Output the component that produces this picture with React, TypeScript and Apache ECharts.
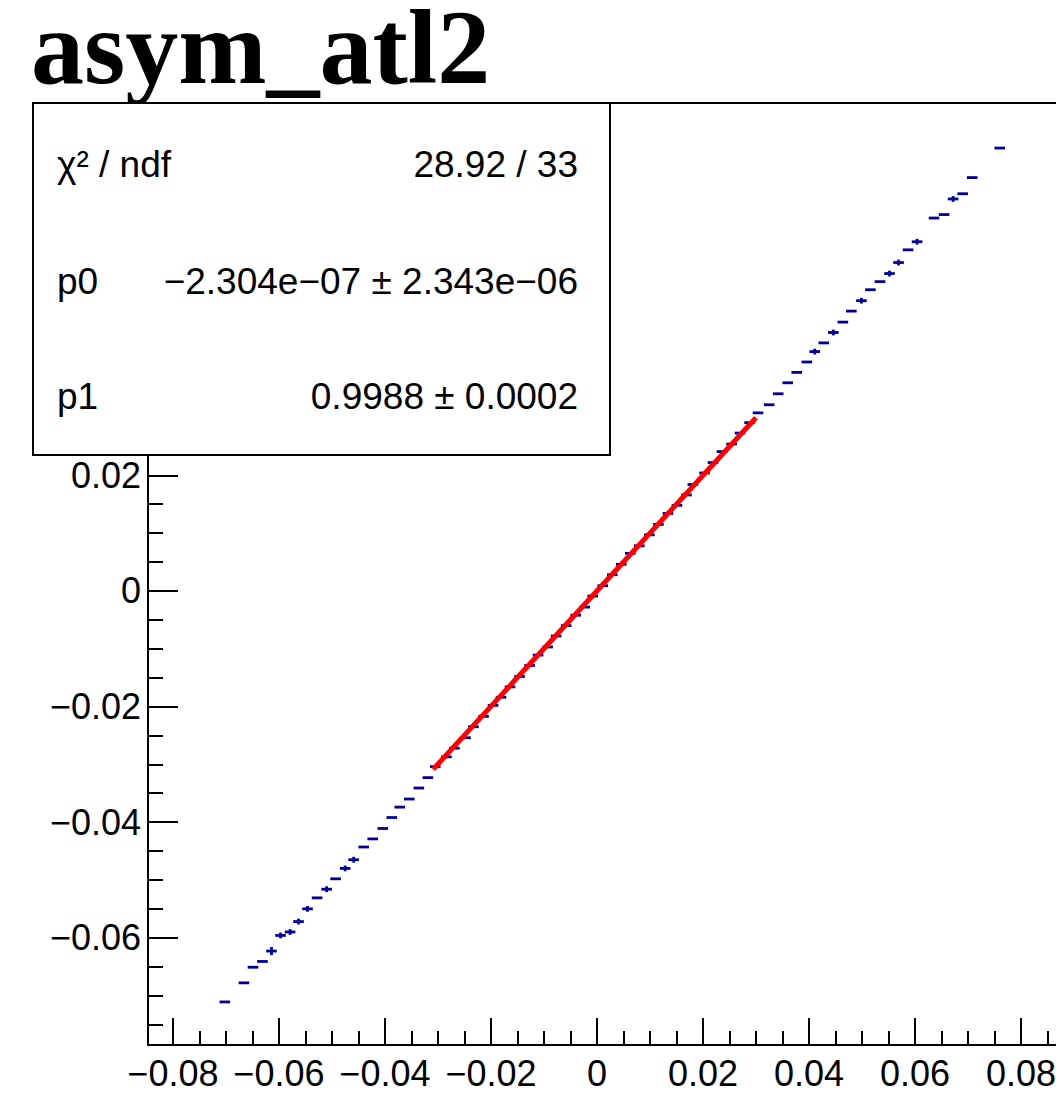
import React, { useEffect, useRef } from "react";
import * as echarts from "echarts";

// ---- data ----
const pointX = [
  -0.0702, -0.0666, -0.0649, -0.0631, -0.0614, -0.0597, -0.0579, -0.0563, -0.0546, -0.0528,
  -0.0510, -0.0493, -0.0475, -0.0459, -0.0440, -0.0423, -0.0404, -0.0387, -0.0372, -0.0354,
  -0.0336, -0.0319, -0.0305, -0.0284, -0.0269, -0.0248, -0.0233, -0.0214, -0.0196, -0.0181,
  -0.0164, -0.0146, -0.0127, -0.0111, -0.0093, -0.0077, -0.0058, -0.0040, -0.0023, -0.0008,
  0.0011, 0.0029, 0.0046, 0.0063, 0.0080, 0.0099, 0.0116, 0.0134, 0.0151, 0.0169,
  0.0181, 0.0203, 0.0219, 0.0236, 0.0254, 0.0270, 0.0288, 0.0304, 0.0325, 0.0342,
  0.0360, 0.0377, 0.0396, 0.0411, 0.0428, 0.0446, 0.0464, 0.0480, 0.0499, 0.0516,
  0.0534, 0.0552, 0.0569, 0.0587, 0.0604, 0.0636, 0.0655, 0.0672, 0.0690, 0.0708,
  0.0760,
];
const pointY = [
  -0.0711, -0.0678, -0.0651, -0.0641, -0.0623, -0.0596, -0.0590, -0.0572, -0.0550, -0.0531,
  -0.0516, -0.0498, -0.0480, -0.0465, -0.0443, -0.0429, -0.0411, -0.0392, -0.0374, -0.0360,
  -0.0341, -0.0323, -0.0304, -0.0287, -0.0272, -0.0254, -0.0235, -0.0217, -0.0198, -0.0184,
  -0.0166, -0.0148, -0.0129, -0.0111, -0.0097, -0.0078, -0.0060, -0.0042, -0.0028, -0.0009,
  0.0009, 0.0028, 0.0046, 0.0065, 0.0078, 0.0097, 0.0115, 0.0134, 0.0148, 0.0166,
  0.0184, 0.0204, 0.0222, 0.0241, 0.0254, 0.0273, 0.0291, 0.0308, 0.0322, 0.0341,
  0.0360, 0.0378, 0.0396, 0.0414, 0.0429, 0.0447, 0.0465, 0.0484, 0.0502, 0.0521,
  0.0535, 0.0549, 0.0568, 0.0590, 0.0604, 0.0645, 0.0651, 0.0678, 0.0687, 0.0715,
  0.0766,
];
const pointXErr = [
  0.001, 0.001, 0.001, 0.001, 0.001, 0.001, 0.001, 0.001, 0.001, 0.001,
  0.001, 0.001, 0.001, 0.001, 0.001, 0.001, 0.001, 0.001, 0.001, 0.001,
  0.001, 0.001, 0.001, 0.001, 0.001, 0.001, 0.001, 0.001, 0.001, 0.001,
  0.001, 0.001, 0.001, 0.001, 0.001, 0.001, 0.001, 0.001, 0.001, 0.001,
  0.001, 0.001, 0.001, 0.001, 0.001, 0.001, 0.001, 0.001, 0.001, 0.001,
  0.001, 0.001, 0.001, 0.001, 0.001, 0.001, 0.001, 0.001, 0.001, 0.001,
  0.001, 0.001, 0.001, 0.001, 0.001, 0.001, 0.001, 0.001, 0.001, 0.001,
  0.001, 0.001, 0.001, 0.001, 0.001, 0.001, 0.001, 0.001, 0.001, 0.001,
  0.001,
];
const pointYErr = [
  0, 0, 0, 0, 0.0007, 0.0005, 0.0005, 0.0005, 0.0005, 0,
  0.0005, 0, 0.0005, 0.0005, 0, 0, 0, 0, 0, 0,
  0, 0, 0, 0, 0, 0, 0, 0, 0, 0,
  0, 0, 0, 0, 0, 0, 0, 0, 0, 0,
  0, 0, 0, 0, 0, 0, 0, 0, 0, 0,
  0, 0, 0, 0, 0, 0, 0, 0, 0, 0,
  0, 0, 0, 0.0005, 0, 0.0005, 0, 0, 0.0005, 0,
  0, 0.0005, 0.0005, 0, 0.0005, 0, 0, 0.0005, 0, 0,
  0,
];

// fit result
const fitP0 = -2.304e-7;
const fitP1 = 0.9988;
const fitRange = [-0.0309, 0.03];

// axes
const xRange = [-0.0847, 0.0885];
const yRange = [-0.07855, 0.0844];
const xMajor = [-0.08, -0.06, -0.04, -0.02, 0, 0.02, 0.04, 0.06, 0.08];
const xMinor = [
  -0.085, -0.075, -0.07, -0.065, -0.055, -0.05, -0.045, -0.035, -0.03, -0.025, -0.015, -0.01,
  -0.005, 0.005, 0.01, 0.015, 0.025, 0.03, 0.035, 0.045, 0.05, 0.055, 0.065, 0.07, 0.075, 0.085,
];
const yMajor = [-0.06, -0.04, -0.02, 0, 0.02, 0.04, 0.06, 0.08];
const yLabelValues = [-0.06, -0.04, -0.02, 0, 0.02];
const yMinor = [
  -0.075, -0.07, -0.065, -0.055, -0.05, -0.045, -0.035, -0.03, -0.025, -0.015, -0.01, -0.005,
  0.005, 0.01, 0.015, 0.025, 0.03, 0.035, 0.045, 0.05, 0.055, 0.065, 0.07, 0.075,
];

const titleText = "asym_atl2";
const statRows = [
  ["χ² / ndf", "28.92 / 33"],
  ["p0", "−2.304e−07 ± 2.343e−06"],
  ["p1", "0.9988 ± 0.0002"],
];

const SANS = "'Liberation Sans', Arial, Helvetica, sans-serif";
const SERIF = "'Liberation Serif', 'Times New Roman', serif";
const BLUE = "#000099";

function fmt(v: number): string {
  if (Math.abs(v) < 1e-12) return "0";
  return (v < 0 ? "−" : "") + Math.abs(v).toFixed(2);
}

export default function App() {
  const ref = useRef<HTMLDivElement>(null);
  useEffect(() => {
    if (!ref.current) return;
    const chart = echarts.init(ref.current, undefined, { renderer: "svg" });
    const pts = pointX.map((x, i) => [x, pointY[i], pointXErr[i], pointYErr[i]]);
    const fitLine = fitRange.map((x) => [x, fitP0 + fitP1 * x]);
    const rowY = [164, 281, 396];
    const graphics: any[] = [
      {
        type: "text",
        x: 31,
        y: 47,
        z: 100,
        style: {
          text: titleText,
          fontFamily: SERIF,
          fontWeight: "bold",
          fontSize: 106,
          lineHeight: 86,
          fill: "#000",
          align: "left",
          verticalAlign: "middle",
        },
      },
      {
        type: "rect",
        z: 100,
        shape: { x: 33, y: 103, width: 577, height: 352 },
        style: { fill: "#fff", stroke: "#000", lineWidth: 2 },
      },
    ];
    statRows.forEach((row, i) => {
      graphics.push({
        type: "text",
        x: 57,
        y: rowY[i],
        z: 101,
        style: { text: row[0], fontFamily: SANS, fontSize: 37, fill: "#000", align: "left", verticalAlign: "middle" },
      });
      graphics.push({
        type: "text",
        x: 578,
        y: rowY[i],
        z: 101,
        style: { text: row[1], fontFamily: SANS, fontSize: 37, fill: "#000", align: "right", verticalAlign: "middle" },
      });
    });

    const baseX = {
      type: "value",
      min: xRange[0],
      max: xRange[1],
      position: "bottom",
      splitLine: { show: false },
    };
    const baseY = {
      type: "value",
      min: yRange[0],
      max: yRange[1],
      position: "left",
      splitLine: { show: false },
    };

    chart.setOption({
      animation: false,
      backgroundColor: "#fff",
      grid: {
        left: 148,
        top: 103,
        width: 918,
        height: 942,
        show: true,
        borderColor: "#000",
        borderWidth: 2,
        backgroundColor: "transparent",
      },
      xAxis: [
        {
          ...baseX,
          axisLine: { show: true, onZero: false, lineStyle: { color: "#000", width: 2 } },
          axisTick: { show: true, inside: true, length: 27, customValues: xMajor, lineStyle: { color: "#000", width: 2 } },
          axisLabel: {
            show: true,
            customValues: xMajor,
            formatter: (v: number) => fmt(v),
            fontFamily: SANS,
            fontSize: 36,
            color: "#000",
            margin: 10,
          },
        },
        {
          ...baseX,
          axisLine: { show: false, onZero: false },
          axisTick: { show: true, inside: true, length: 14, customValues: xMinor, lineStyle: { color: "#000", width: 2 } },
          axisLabel: { show: false },
        },
      ],
      yAxis: [
        {
          ...baseY,
          axisLine: { show: true, onZero: false, lineStyle: { color: "#000", width: 2 } },
          axisTick: { show: true, inside: true, length: 30, customValues: yMajor, lineStyle: { color: "#000", width: 2 } },
          axisLabel: {
            show: true,
            customValues: yLabelValues,
            formatter: (v: number) => fmt(v),
            fontFamily: SANS,
            fontSize: 36,
            color: "#000",
            margin: 7,
          },
        },
        {
          ...baseY,
          axisLine: { show: false, onZero: false },
          axisTick: { show: true, inside: true, length: 15, customValues: yMinor, lineStyle: { color: "#000", width: 2 } },
          axisLabel: { show: false },
        },
      ],
      series: [
        {
          type: "custom",
          xAxisIndex: 0,
          yAxisIndex: 0,
          data: pts,
          encode: { x: 0, y: 1 },
          z: 5,
          renderItem: (_p: any, api: any) => {
            const x = api.value(0);
            const y = api.value(1);
            const ex = api.value(2);
            const ey = api.value(3);
            const l = api.coord([x - ex, y]);
            const r = api.coord([x + ex, y]);
            const style = { stroke: BLUE, lineWidth: 2.8, fill: "none" };
            const children: any[] = [
              { type: "line", shape: { x1: l[0], y1: l[1], x2: r[0], y2: r[1] }, style },
            ];
            if (ey > 0) {
              const t = api.coord([x, y + ey]);
              const b = api.coord([x, y - ey]);
              children.push({ type: "line", shape: { x1: t[0], y1: t[1], x2: b[0], y2: b[1] }, style });
            }
            return { type: "group", children };
          },
        },
        {
          type: "line",
          xAxisIndex: 0,
          yAxisIndex: 0,
          data: fitLine,
          symbol: "none",
          z: 10,
          lineStyle: { color: "#ff0000", width: 5 },
        },
      ],
      graphic: graphics,
    });
    return () => chart.dispose();
  }, []);

  return (
    <div style={{ position: "fixed", left: 0, top: 0, width: 1056, height: 1112, overflow: "hidden", background: "#fff" }}>
      <div ref={ref} style={{ width: 1100, height: 1112 }} />
    </div>
  );
}
